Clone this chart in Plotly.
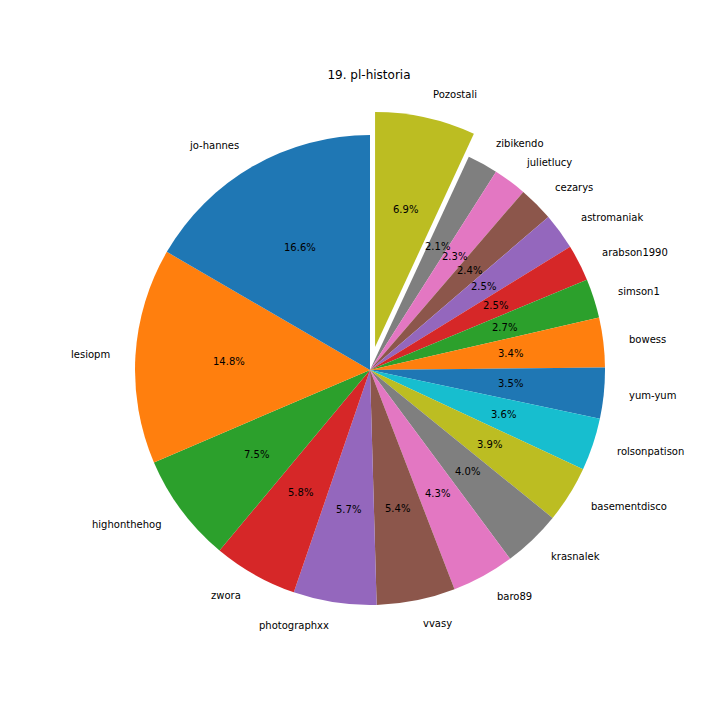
import math
import plotly.graph_objects as go

labels = ["jo-hannes", "lesiopm", "highonthehog", "zwora", "photographxx", "vvasy",
          "baro89", "krasnalek", "basementdisco", "rolsonpatison", "yum-yum", "bowess",
          "simson1", "arabson1990", "astromaniak", "cezarys", "julietlucy", "zibikendo",
          "Pozostali"]
values = [16.6, 14.8, 7.5, 5.8, 5.7, 5.4, 4.3, 4.0, 3.9, 3.6, 3.5, 3.4,
          2.7, 2.5, 2.5, 2.4, 2.3, 2.1, 6.9]
pulls = [0] * 18 + [0.1]
tab10 = ["#1f77b4", "#ff7f0e", "#2ca02c", "#d62728", "#9467bd",
         "#8c564b", "#e377c2", "#7f7f7f", "#bcbd22", "#17becf"]
colors = [tab10[i % 10] for i in range(len(labels))]

W = 720
OFF = 8  # page body margin offset in the browser
cx, cy, R = 370, 370, 235
half = R * 1.1


def px2x(px):
    return (px - OFF) / W


def py2y(py):
    return 1 - (py - OFF) / W


dom_x = [px2x(cx - half), px2x(cx + half)]
dom_y = [py2y(cy + half), py2y(cy - half)]

fig = go.Figure()
# matplotlib draws counterclockwise from 12 o'clock: same as reversed order clockwise
fig.add_trace(go.Pie(
    labels=labels[::-1], values=values[::-1], textinfo="none",
    sort=False, direction="clockwise", rotation=0, pull=pulls[::-1],
    marker=dict(colors=colors[::-1], line=dict(width=0)),
    domain=dict(x=dom_x, y=dom_y), showlegend=False, hoverinfo="skip",
))

# text placed like matplotlib: percentages at 0.6r, labels at 1.1r
total = sum(values)
cum = 0.0
annotations = []
for lab, v, p in zip(labels, values, pulls):
    ang = math.radians(90 + 360 * (cum + v / 2) / total)
    cum += v
    ox = cx + p * R * math.cos(ang)
    oy = cy - p * R * math.sin(ang)
    tx = ox + 0.6 * R * math.cos(ang)
    ty = oy - 0.6 * R * math.sin(ang)
    lx = ox + 1.1 * R * math.cos(ang)
    ly = oy - 1.1 * R * math.sin(ang)
    annotations.append(dict(x=px2x(tx), y=py2y(ty), xref="paper", yref="paper",
                            text=f"{v:.1f}%", showarrow=False, xanchor="center",
                            yanchor="middle",
                            font=dict(family="DejaVu Sans", size=10, color="black")))
    annotations.append(dict(x=px2x(lx), y=py2y(ly), xref="paper", yref="paper",
                            text=lab, showarrow=False,
                            xanchor="left" if math.cos(ang) > 0 else "right",
                            yanchor="middle",
                            font=dict(family="DejaVu Sans", size=10, color="black")))

fig.update_layout(
    width=720, height=720, margin=dict(l=0, r=0, t=0, b=0),
    paper_bgcolor="white", plot_bgcolor="white",
    annotations=annotations,
    title=dict(text="19. pl-historia", x=px2x(369), xanchor="center",
               y=py2y(75), yanchor="middle",
               font=dict(family="DejaVu Sans", size=12, color="black")),
)
fig.write_html("out.html")
